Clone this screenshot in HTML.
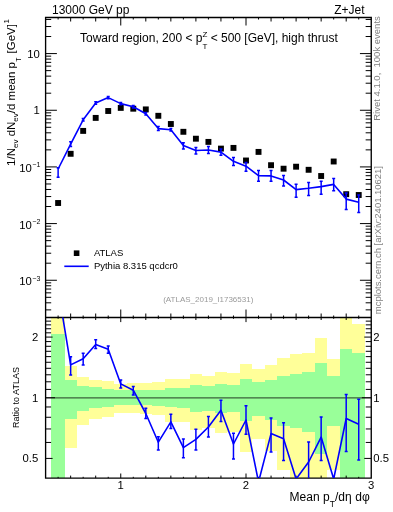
<!DOCTYPE html><html><head><meta charset="utf-8"><style>html,body{margin:0;padding:0;background:#fff;width:393px;height:512px;overflow:hidden}svg{display:block;will-change:transform}text{font-family:"Liberation Sans",sans-serif}</style></head><body>
<svg width="393" height="512" viewBox="0 0 393 512">
<g shape-rendering="crispEdges">
<rect x="51.00" y="317.50" width="13.60" height="160.60" fill="#ffff99"/>
<rect x="64.60" y="365.90" width="12.31" height="81.60" fill="#ffff99"/>
<rect x="76.91" y="376.50" width="12.53" height="48.60" fill="#ffff99"/>
<rect x="89.44" y="380.10" width="12.53" height="38.90" fill="#ffff99"/>
<rect x="101.96" y="381.20" width="12.53" height="36.20" fill="#ffff99"/>
<rect x="114.49" y="383.80" width="12.53" height="29.40" fill="#ffff99"/>
<rect x="127.01" y="383.40" width="12.53" height="29.90" fill="#ffff99"/>
<rect x="139.54" y="382.70" width="12.52" height="31.20" fill="#ffff99"/>
<rect x="152.06" y="382.00" width="12.53" height="32.70" fill="#ffff99"/>
<rect x="164.59" y="379.40" width="12.52" height="42.10" fill="#ffff99"/>
<rect x="177.11" y="378.50" width="12.53" height="43.00" fill="#ffff99"/>
<rect x="189.64" y="374.20" width="12.53" height="55.30" fill="#ffff99"/>
<rect x="202.16" y="376.40" width="12.53" height="52.00" fill="#ffff99"/>
<rect x="214.69" y="372.00" width="12.53" height="60.70" fill="#ffff99"/>
<rect x="227.21" y="372.90" width="12.53" height="59.20" fill="#ffff99"/>
<rect x="239.74" y="364.20" width="12.52" height="87.50" fill="#ffff99"/>
<rect x="252.26" y="369.10" width="12.52" height="69.60" fill="#ffff99"/>
<rect x="264.79" y="365.00" width="12.52" height="85.90" fill="#ffff99"/>
<rect x="277.31" y="358.10" width="12.52" height="111.50" fill="#ffff99"/>
<rect x="289.84" y="353.90" width="12.52" height="124.20" fill="#ffff99"/>
<rect x="302.36" y="352.70" width="12.52" height="125.40" fill="#ffff99"/>
<rect x="314.89" y="338.40" width="12.52" height="139.70" fill="#ffff99"/>
<rect x="327.41" y="358.80" width="12.52" height="111.00" fill="#ffff99"/>
<rect x="339.94" y="317.50" width="12.52" height="160.60" fill="#ffff99"/>
<rect x="352.46" y="324.20" width="12.52" height="153.90" fill="#ffff99"/>
<rect x="51.00" y="333.70" width="13.60" height="144.40" fill="#99ff99"/>
<rect x="64.60" y="380.10" width="12.31" height="38.90" fill="#99ff99"/>
<rect x="76.91" y="385.80" width="12.53" height="25.10" fill="#99ff99"/>
<rect x="89.44" y="387.30" width="12.53" height="20.90" fill="#99ff99"/>
<rect x="101.96" y="388.70" width="12.53" height="18.10" fill="#99ff99"/>
<rect x="114.49" y="390.20" width="12.53" height="15.00" fill="#99ff99"/>
<rect x="127.01" y="390.40" width="12.53" height="14.60" fill="#99ff99"/>
<rect x="139.54" y="390.10" width="12.52" height="15.30" fill="#99ff99"/>
<rect x="152.06" y="389.70" width="12.53" height="16.00" fill="#99ff99"/>
<rect x="164.59" y="388.20" width="12.52" height="19.00" fill="#99ff99"/>
<rect x="177.11" y="388.00" width="12.53" height="20.20" fill="#99ff99"/>
<rect x="189.64" y="384.80" width="12.53" height="26.70" fill="#99ff99"/>
<rect x="202.16" y="386.00" width="12.53" height="24.50" fill="#99ff99"/>
<rect x="214.69" y="384.10" width="12.53" height="28.90" fill="#99ff99"/>
<rect x="227.21" y="384.60" width="12.53" height="27.00" fill="#99ff99"/>
<rect x="239.74" y="379.20" width="12.52" height="41.40" fill="#99ff99"/>
<rect x="252.26" y="381.90" width="12.52" height="34.00" fill="#99ff99"/>
<rect x="264.79" y="379.50" width="12.52" height="40.90" fill="#99ff99"/>
<rect x="277.31" y="375.80" width="12.52" height="50.60" fill="#99ff99"/>
<rect x="289.84" y="374.00" width="12.52" height="53.50" fill="#99ff99"/>
<rect x="302.36" y="372.40" width="12.52" height="59.90" fill="#99ff99"/>
<rect x="314.89" y="363.20" width="12.52" height="90.80" fill="#99ff99"/>
<rect x="327.41" y="376.10" width="12.52" height="50.20" fill="#99ff99"/>
<rect x="339.94" y="349.20" width="12.52" height="128.90" fill="#99ff99"/>
<rect x="352.46" y="352.70" width="12.52" height="125.40" fill="#99ff99"/>
</g>
<line x1="45.6" y1="397.75" x2="371.25" y2="397.75" stroke="#000" stroke-opacity="0.62" stroke-width="1.25"/>
<g stroke="#000" stroke-width="1.35" fill="none">
<path d="M45.6,17.5 H371.25 V478.1 H45.6 Z M45.6,317.5 H371.25"/>
</g>
<path stroke="#000" stroke-width="1" fill="none" d="M45.60,309.89L51.20,309.89M371.25,309.89L365.65,309.89M45.60,302.81L51.20,302.81M371.25,302.81L365.65,302.81M45.60,297.32L51.20,297.32M371.25,297.32L365.65,297.32M45.60,292.83L51.20,292.83M371.25,292.83L365.65,292.83M45.60,289.04L51.20,289.04M371.25,289.04L365.65,289.04M45.60,285.75L51.20,285.75M371.25,285.75L365.65,285.75M45.60,282.85L51.20,282.85M371.25,282.85L365.65,282.85M45.60,280.26L56.90,280.26M371.25,280.26L359.95,280.26M45.60,263.20L51.20,263.20M371.25,263.20L365.65,263.20M45.60,253.22L51.20,253.22M371.25,253.22L365.65,253.22M45.60,246.14L51.20,246.14M371.25,246.14L365.65,246.14M45.60,240.65L51.20,240.65M371.25,240.65L365.65,240.65M45.60,236.16L51.20,236.16M371.25,236.16L365.65,236.16M45.60,232.37L51.20,232.37M371.25,232.37L365.65,232.37M45.60,229.08L51.20,229.08M371.25,229.08L365.65,229.08M45.60,226.18L51.20,226.18M371.25,226.18L365.65,226.18M45.60,223.59L56.90,223.59M371.25,223.59L359.95,223.59M45.60,206.53L51.20,206.53M371.25,206.53L365.65,206.53M45.60,196.55L51.20,196.55M371.25,196.55L365.65,196.55M45.60,189.47L51.20,189.47M371.25,189.47L365.65,189.47M45.60,183.98L51.20,183.98M371.25,183.98L365.65,183.98M45.60,179.49L51.20,179.49M371.25,179.49L365.65,179.49M45.60,175.70L51.20,175.70M371.25,175.70L365.65,175.70M45.60,172.41L51.20,172.41M371.25,172.41L365.65,172.41M45.60,169.51L51.20,169.51M371.25,169.51L365.65,169.51M45.60,166.92L56.90,166.92M371.25,166.92L359.95,166.92M45.60,149.86L51.20,149.86M371.25,149.86L365.65,149.86M45.60,139.88L51.20,139.88M371.25,139.88L365.65,139.88M45.60,132.80L51.20,132.80M371.25,132.80L365.65,132.80M45.60,127.31L51.20,127.31M371.25,127.31L365.65,127.31M45.60,122.82L51.20,122.82M371.25,122.82L365.65,122.82M45.60,119.03L51.20,119.03M371.25,119.03L365.65,119.03M45.60,115.74L51.20,115.74M371.25,115.74L365.65,115.74M45.60,112.84L51.20,112.84M371.25,112.84L365.65,112.84M45.60,110.25L56.90,110.25M371.25,110.25L359.95,110.25M45.60,93.19L51.20,93.19M371.25,93.19L365.65,93.19M45.60,83.21L51.20,83.21M371.25,83.21L365.65,83.21M45.60,76.13L51.20,76.13M371.25,76.13L365.65,76.13M45.60,70.64L51.20,70.64M371.25,70.64L365.65,70.64M45.60,66.15L51.20,66.15M371.25,66.15L365.65,66.15M45.60,62.36L51.20,62.36M371.25,62.36L365.65,62.36M45.60,59.07L51.20,59.07M371.25,59.07L365.65,59.07M45.60,56.17L51.20,56.17M371.25,56.17L365.65,56.17M45.60,53.58L56.90,53.58M371.25,53.58L359.95,53.58M45.60,36.52L51.20,36.52M371.25,36.52L365.65,36.52M45.60,26.54L51.20,26.54M371.25,26.54L365.65,26.54M45.60,19.46L51.20,19.46M371.25,19.46L365.65,19.46M58.12,17.50L58.12,19.50M58.12,317.50L58.12,315.50M58.12,317.50L58.12,318.80M58.12,478.10L58.12,476.80M70.65,17.50L70.65,21.50M70.65,317.50L70.65,313.50M70.65,317.50L70.65,320.00M70.65,478.10L70.65,475.60M83.17,17.50L83.17,19.50M83.17,317.50L83.17,315.50M83.17,317.50L83.17,318.80M83.17,478.10L83.17,476.80M95.70,17.50L95.70,21.50M95.70,317.50L95.70,313.50M95.70,317.50L95.70,320.00M95.70,478.10L95.70,475.60M108.22,17.50L108.22,19.50M108.22,317.50L108.22,315.50M108.22,317.50L108.22,318.80M108.22,478.10L108.22,476.80M120.75,17.50L120.75,25.50M120.75,317.50L120.75,309.50M120.75,317.50L120.75,322.10M120.75,478.10L120.75,473.50M133.28,17.50L133.28,19.50M133.28,317.50L133.28,315.50M133.28,317.50L133.28,318.80M133.28,478.10L133.28,476.80M145.80,17.50L145.80,21.50M145.80,317.50L145.80,313.50M145.80,317.50L145.80,320.00M145.80,478.10L145.80,475.60M158.32,17.50L158.32,19.50M158.32,317.50L158.32,315.50M158.32,317.50L158.32,318.80M158.32,478.10L158.32,476.80M170.85,17.50L170.85,21.50M170.85,317.50L170.85,313.50M170.85,317.50L170.85,320.00M170.85,478.10L170.85,475.60M183.38,17.50L183.38,19.50M183.38,317.50L183.38,315.50M183.38,317.50L183.38,318.80M183.38,478.10L183.38,476.80M195.90,17.50L195.90,21.50M195.90,317.50L195.90,313.50M195.90,317.50L195.90,320.00M195.90,478.10L195.90,475.60M208.42,17.50L208.42,19.50M208.42,317.50L208.42,315.50M208.42,317.50L208.42,318.80M208.42,478.10L208.42,476.80M220.95,17.50L220.95,21.50M220.95,317.50L220.95,313.50M220.95,317.50L220.95,320.00M220.95,478.10L220.95,475.60M233.47,17.50L233.47,19.50M233.47,317.50L233.47,315.50M233.47,317.50L233.47,318.80M233.47,478.10L233.47,476.80M246.00,17.50L246.00,25.50M246.00,317.50L246.00,309.50M246.00,317.50L246.00,322.10M246.00,478.10L246.00,473.50M258.53,17.50L258.53,19.50M258.53,317.50L258.53,315.50M258.53,317.50L258.53,318.80M258.53,478.10L258.53,476.80M271.05,17.50L271.05,21.50M271.05,317.50L271.05,313.50M271.05,317.50L271.05,320.00M271.05,478.10L271.05,475.60M283.57,17.50L283.57,19.50M283.57,317.50L283.57,315.50M283.57,317.50L283.57,318.80M283.57,478.10L283.57,476.80M296.10,17.50L296.10,21.50M296.10,317.50L296.10,313.50M296.10,317.50L296.10,320.00M296.10,478.10L296.10,475.60M308.62,17.50L308.62,19.50M308.62,317.50L308.62,315.50M308.62,317.50L308.62,318.80M308.62,478.10L308.62,476.80M321.15,17.50L321.15,21.50M321.15,317.50L321.15,313.50M321.15,317.50L321.15,320.00M321.15,478.10L321.15,475.60M333.68,17.50L333.68,19.50M333.68,317.50L333.68,315.50M333.68,317.50L333.68,318.80M333.68,478.10L333.68,476.80M346.20,17.50L346.20,21.50M346.20,317.50L346.20,313.50M346.20,317.50L346.20,320.00M346.20,478.10L346.20,475.60M358.73,17.50L358.73,19.50M358.73,317.50L358.73,315.50M358.73,317.50L358.73,318.80M358.73,478.10L358.73,476.80M45.60,458.41L52.60,458.41M371.25,458.41L364.25,458.41M45.60,442.45L51.10,442.45M371.25,442.45L365.75,442.45M45.60,428.96L51.10,428.96M371.25,428.96L365.75,428.96M45.60,417.28L51.10,417.28M371.25,417.28L365.75,417.28M45.60,406.97L51.10,406.97M371.25,406.97L365.75,406.97M45.60,397.75L55.00,397.75M371.25,397.75L361.85,397.75M45.60,389.41L51.10,389.41M371.25,389.41L365.75,389.41M45.60,381.79L51.10,381.79M371.25,381.79L365.75,381.79M45.60,374.79L51.10,374.79M371.25,374.79L365.75,374.79M45.60,368.31L51.10,368.31M371.25,368.31L365.75,368.31M45.60,362.27L51.10,362.27M371.25,362.27L365.75,362.27M45.60,356.62L51.10,356.62M371.25,356.62L365.75,356.62M45.60,351.31L51.10,351.31M371.25,351.31L365.75,351.31M45.60,346.31L51.10,346.31M371.25,346.31L365.75,346.31M45.60,341.58L51.10,341.58M371.25,341.58L365.75,341.58M45.60,337.09L52.60,337.09M371.25,337.09L364.25,337.09M45.60,332.82L51.10,332.82M371.25,332.82L365.75,332.82M45.60,328.75L51.10,328.75M371.25,328.75L365.75,328.75M45.60,324.86L51.10,324.86M371.25,324.86L365.75,324.86M45.60,321.14L51.10,321.14M371.25,321.14L365.75,321.14"/>
<g fill="#000">
<rect x="55.17" y="200.05" width="5.9" height="5.9"/>
<rect x="67.70" y="150.85" width="5.9" height="5.9"/>
<rect x="80.22" y="127.95" width="5.9" height="5.9"/>
<rect x="92.75" y="114.95" width="5.9" height="5.9"/>
<rect x="105.27" y="108.05" width="5.9" height="5.9"/>
<rect x="117.80" y="104.95" width="5.9" height="5.9"/>
<rect x="130.33" y="105.75" width="5.9" height="5.9"/>
<rect x="142.85" y="106.45" width="5.9" height="5.9"/>
<rect x="155.38" y="112.85" width="5.9" height="5.9"/>
<rect x="167.90" y="121.05" width="5.9" height="5.9"/>
<rect x="180.43" y="128.85" width="5.9" height="5.9"/>
<rect x="192.95" y="135.75" width="5.9" height="5.9"/>
<rect x="205.47" y="138.95" width="5.9" height="5.9"/>
<rect x="218.00" y="145.65" width="5.9" height="5.9"/>
<rect x="230.52" y="144.95" width="5.9" height="5.9"/>
<rect x="243.05" y="157.55" width="5.9" height="5.9"/>
<rect x="255.58" y="148.95" width="5.9" height="5.9"/>
<rect x="268.10" y="162.25" width="5.9" height="5.9"/>
<rect x="280.62" y="165.75" width="5.9" height="5.9"/>
<rect x="293.15" y="163.75" width="5.9" height="5.9"/>
<rect x="305.68" y="166.85" width="5.9" height="5.9"/>
<rect x="318.20" y="173.05" width="5.9" height="5.9"/>
<rect x="330.73" y="158.55" width="5.9" height="5.9"/>
<rect x="343.25" y="191.25" width="5.9" height="5.9"/>
<rect x="355.78" y="192.05" width="5.9" height="5.9"/>
</g>
<polyline points="58.12,169.00 70.65,144.10 83.17,119.80 95.70,103.00 108.22,97.60 120.75,103.60 133.28,106.70 145.80,113.70 158.32,128.60 170.85,129.80 183.38,145.60 195.90,150.50 208.42,150.00 220.95,152.10 233.47,161.30 246.00,166.20 258.53,175.70 271.05,175.90 283.57,180.00 296.10,189.60 308.62,188.30 321.15,186.60 333.68,184.40 346.20,199.10 358.73,202.20" fill="none" stroke="#0000ff" stroke-width="1.6" stroke-linejoin="round"/>
<path stroke="#0000ff" stroke-width="1.5" fill="none" d="M58.12,167.80V177.30M56.62,167.80H59.62M56.62,177.30H59.62M70.65,141.80V146.40M69.15,141.80H72.15M69.15,146.40H72.15M83.17,118.60V121.00M81.67,118.60H84.67M81.67,121.00H84.67M95.70,101.80V104.20M94.20,101.80H97.20M94.20,104.20H97.20M108.22,96.40V98.80M106.72,96.40H109.72M106.72,98.80H109.72M120.75,102.40V104.80M119.25,102.40H122.25M119.25,104.80H122.25M133.28,105.50V107.90M131.78,105.50H134.78M131.78,107.90H134.78M145.80,112.50V114.90M144.30,112.50H147.30M144.30,114.90H147.30M158.32,126.50V130.60M156.82,126.50H159.82M156.82,130.60H159.82M170.85,128.60V131.00M169.35,128.60H172.35M169.35,131.00H172.35M183.38,142.80V148.90M181.88,142.80H184.88M181.88,148.90H184.88M195.90,147.40V154.00M194.40,147.40H197.40M194.40,154.00H197.40M208.42,146.50V153.50M206.92,146.50H209.92M206.92,153.50H209.92M220.95,149.00V155.20M219.45,149.00H222.45M219.45,155.20H222.45M233.47,157.50V165.40M231.97,157.50H234.97M231.97,165.40H234.97M246.00,162.40V171.20M244.50,162.40H247.50M244.50,171.20H247.50M258.53,170.50V181.20M257.03,170.50H260.03M257.03,181.20H260.03M271.05,170.50V181.20M269.55,170.50H272.55M269.55,181.20H272.55M283.57,175.40V186.10M282.07,175.40H285.07M282.07,186.10H285.07M296.10,184.30V197.30M294.60,184.30H297.60M294.60,197.30H297.60M308.62,182.60V195.50M307.12,182.60H310.12M307.12,195.50H310.12M321.15,181.30V194.30M319.65,181.30H322.65M319.65,194.30H322.65M333.68,178.50V190.80M332.18,178.50H335.18M332.18,190.80H335.18M346.20,193.00V209.40M344.70,193.00H347.70M344.70,209.40H347.70M358.73,194.90V212.50M357.23,194.90H360.23M357.23,212.50H360.23"/>
<clipPath id="rc"><rect x="45.6" y="317.5" width="325.65" height="160.60000000000002"/></clipPath>
<g clip-path="url(#rc)"><polyline points="58.12,289.00 70.65,364.90 83.17,358.80 95.70,344.50 108.22,349.20 120.75,383.90 133.28,390.20 145.80,413.50 158.32,442.20 170.85,421.80 183.38,447.60 195.90,439.40 208.42,427.00 220.95,410.30 233.47,444.00 246.00,420.00 258.53,482.00 271.05,433.60 283.57,438.80 296.10,479.00 308.62,462.00 321.15,437.10 333.68,479.00 346.20,418.50 358.73,424.30" fill="none" stroke="#0000ff" stroke-width="1.6" stroke-linejoin="round"/>
<path stroke="#0000ff" stroke-width="1.5" fill="none" d="M70.65,356.70V375.00M69.15,356.70H72.15M69.15,375.00H72.15M83.17,353.30V364.90M81.67,353.30H84.67M81.67,364.90H84.67M95.70,339.80V348.60M94.20,339.80H97.20M94.20,348.60H97.20M108.22,346.00V353.30M106.72,346.00H109.72M106.72,353.30H109.72M120.75,379.90V388.00M119.25,379.90H122.25M119.25,388.00H122.25M133.28,386.50V395.00M131.78,386.50H134.78M131.78,395.00H134.78M145.80,408.20V418.40M144.30,408.20H147.30M144.30,418.40H147.30M158.32,436.70V450.00M156.82,436.70H159.82M156.82,450.00H159.82M170.85,414.20V428.60M169.35,414.20H172.35M169.35,428.60H172.35M183.38,438.90V457.70M181.88,438.90H184.88M181.88,457.70H184.88M195.90,429.30V450.00M194.40,429.30H197.40M194.40,450.00H197.40M208.42,416.50V437.10M206.92,416.50H209.92M206.92,437.10H209.92M220.95,400.30V421.40M219.45,400.30H222.45M219.45,421.40H222.45M233.47,433.20V459.00M231.97,433.20H234.97M231.97,459.00H234.97M246.00,405.70V434.20M244.50,405.70H247.50M244.50,434.20H247.50M271.05,417.90V451.90M269.55,417.90H272.55M269.55,451.90H272.55M283.57,422.70V460.60M282.07,422.70H285.07M282.07,460.60H285.07M308.62,442.00V483.10M307.12,442.00H310.12M321.15,417.00V460.60M319.65,417.00H322.65M319.65,460.60H322.65M346.20,394.40V451.60M344.70,394.40H347.70M344.70,451.60H347.70M358.73,399.20V460.10M357.23,399.20H360.23M357.23,460.10H360.23"/></g>
<rect x="73.8" y="250.4" width="5.6" height="5.6" fill="#000"/>
<line x1="64.3" y1="266.3" x2="88.7" y2="266.3" stroke="#0000ff" stroke-width="1.6"/>
<g fill="#000">
<text x="52" y="13.8" font-size="12">13000 GeV pp</text>
<text x="364.6" y="13.7" font-size="12" text-anchor="end">Z+Jet</text>
<text x="80" y="41.5" font-size="12">Toward region, 200 &lt; p<tspan font-size="8" dy="-5">Z</tspan><tspan font-size="8" dx="-4.9" dy="12">T</tspan><tspan dy="-7"> &lt; 500 [GeV], high thrust</tspan></text>
<text x="93.9" y="256" font-size="9.5">ATLAS</text>
<text x="93.9" y="269" font-size="9.5">Pythia 8.315 qcdcr0</text>
<text x="39.8" y="57.9" font-size="11.3" text-anchor="end">10</text>
<text x="39.8" y="113.9" font-size="11.3" text-anchor="end">1</text>
<text x="40.3" y="171.8" font-size="11.3" text-anchor="end">10<tspan font-size="7" dx="0.6" dy="-4.8">&#8722;1</tspan></text>
<text x="40.3" y="228.8" font-size="11.3" text-anchor="end">10<tspan font-size="7" dx="0.6" dy="-4.8">&#8722;2</tspan></text>
<text x="40.3" y="285.3" font-size="11.3" text-anchor="end">10<tspan font-size="7" dx="0.6" dy="-4.8">&#8722;3</tspan></text>
<text x="38.2" y="340.8" font-size="11.3" text-anchor="end">2</text>
<text x="38.2" y="401.6" font-size="11.3" text-anchor="end">1</text>
<text x="38.2" y="461.7" font-size="11.3" text-anchor="end">0.5</text>
<text x="373.3" y="340.8" font-size="11.3">2</text>
<text x="373.3" y="401.9" font-size="11.3">1</text>
<text x="373.3" y="462" font-size="11.3">0.5</text>
<text x="120.6" y="488.7" font-size="11.3" text-anchor="middle">1</text>
<text x="245.9" y="488.7" font-size="11.3" text-anchor="middle">2</text>
<text x="371.2" y="488.7" font-size="11.3" text-anchor="middle">3</text>
<text x="289.6" y="500.9" font-size="12">Mean p<tspan font-size="8.5" dx="0.2" dy="6.3">T</tspan><tspan dy="-6.3" dx="0">/d&#951;</tspan><tspan dx="3.6">d&#966;</tspan></text>
<text transform="translate(15,165.9) rotate(-90)" font-size="11.5">1/N<tspan font-size="8" dy="3">ev</tspan><tspan dy="-3"> dN</tspan><tspan font-size="8" dy="3">ev</tspan><tspan dy="-3">/d mean p</tspan><tspan font-size="7" dx="0.3" dy="6">T</tspan><tspan dy="-6" dx="0.8"> [GeV]</tspan><tspan font-size="8" dx="0.6" dy="-6">1</tspan></text>
<text transform="translate(18.5,427.9) rotate(-90)" font-size="9">Ratio to ATLAS</text>
</g>
<g fill="#808080">
<text transform="translate(380,120.8) rotate(-90)" font-size="9.5" textLength="104.6" lengthAdjust="spacing">Rivet 4.1.0,&#160; 100k events</text>
<text transform="translate(381,314.2) rotate(-90)" font-size="9.5" textLength="148.2" lengthAdjust="spacing">mcplots.cern.ch [arXiv:2401.10621]</text>
</g>
<text x="163.2" y="301.6" font-size="8" fill="#9a9a9a">(ATLAS_2019_I1736531)</text>
</svg></body></html>
